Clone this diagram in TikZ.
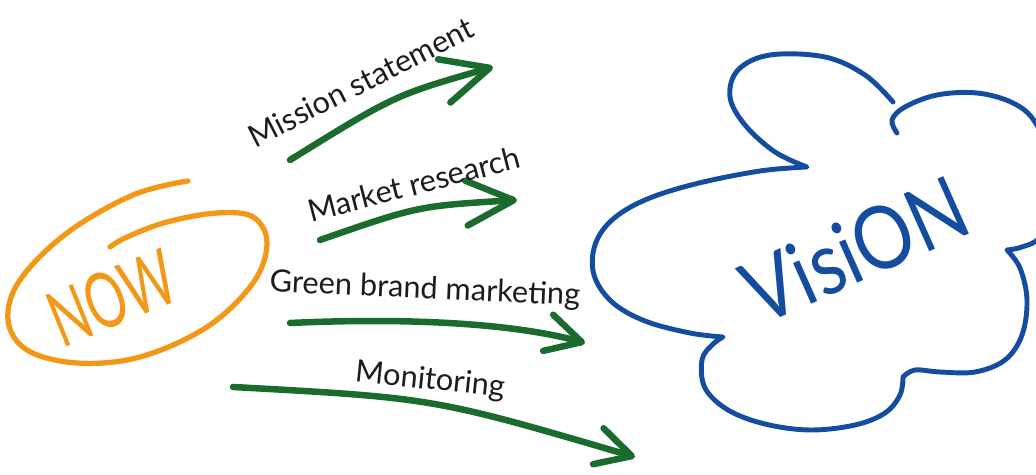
\documentclass[tikz,border=0pt]{standalone}
\usepackage{fontspec}
\usepackage{graphicx}
\setmainfont{Lato}
\usetikzlibrary{arrows.meta}

\definecolor{nowOrange}{RGB}{242,152,22}
\definecolor{visBlue}{RGB}{20,76,160}
\definecolor{stepGreen}{RGB}{26,108,46}
\definecolor{inkGray}{RGB}{28,28,28}

\begin{document}
\begin{tikzpicture}[
  x=0.02cm, y=-0.02cm,
  line cap=round, line join=round,
  steptext/.style={text=inkGray, inner sep=0pt,
    font=\fontsize{17.5}{17.5}\selectfont},
  stepline/.style={draw=stepGreen, line width=3.7pt,
    -{Straight Barb[length=0.95cm, width=0.9cm, round]}},
  smalltip/.style={-{Straight Barb[length=0.7cm, width=0.75cm, round]}},
  nowtext/.style={text=nowOrange, inner sep=0pt,
    font=\fontsize{44}{44}\selectfont},
  vistext/.style={text=visBlue, inner sep=0pt,
    font=\fontsize{50}{50}\selectfont},
]
\useasboundingbox (0,0) rectangle (1036,475);

%% ── NOW, circled ──────────────────────────────────────────────────────────
\draw[nowOrange, line width=3pt] plot[smooth, tension=0.6] coordinates {
  (188,181) (133,195) (67,233) (20,280) (8,320) (27,350) (77,363)
  (140,357) (207,327) (253,283) (267,243) (253,217) (217,213)
  (167,222) (127,237) (110,247)};
\node[nowtext, rotate=22] (now) at (112,298) {\scalebox{0.65}[1]{NOW}};

%% ── VISION cloud ──────────────────────────────────────────────────────────
\begin{scope}
\clip (0,0) rectangle (1036,475);
\draw[visBlue, line width=2.8pt]
  plot[smooth, tension=0.6] coordinates {
    (897,133) (892,120) (905,107) (937,95) (977,93) (1013,103)
    (1035,122) (1050,160) (1052,205) (1040,237) (1022,247) (1007,250)}
  -- plot[smooth, tension=0.6] coordinates {
    (1007,250) (1020,268) (1027,300) (1022,335) (1005,360) (975,372)
    (940,372) (915,370) (903,377)}
  -- plot[smooth, tension=0.6] coordinates {
    (903,377) (900,395) (885,413) (855,425) (810,430) (765,424)
    (728,410) (705,388) (702,360) (712,345) (723,337)}
  -- plot[smooth, tension=0.6] coordinates {
    (723,337) (690,333) (645,321) (612,302) (594,275) (595,245)
    (612,220) (645,200) (695,184) (760,171) (807,167)}
  -- plot[smooth, tension=0.6] coordinates {
    (807,167) (775,152) (745,125) (730,97) (738,70) (770,55)
    (825,57) (865,75) (893,102)};
\end{scope}
\node[vistext, rotate=24] (vision) at (855,250) {\scalebox{0.85}[1]{VisiON}};

%% ── Steps from now to vision ──────────────────────────────────────────────
\coordinate (ms-a) at (290,160);
\coordinate (ms-b) at (493,67);
\coordinate (mr-a) at (320,240);
\coordinate (mr-b) at (517,200);
\coordinate (gb-a) at (290,323);
\coordinate (gb-b) at (585,343);
\coordinate (mo-a) at (233,387);
\coordinate (mo-b) at (635,457);

\draw[stepline] (ms-a) .. controls (395,95) .. (ms-b);
\draw[stepline] (mr-a) .. controls (418,206) .. (mr-b);
\draw[stepline, smalltip] (gb-a) .. controls (420,317) and (520,325) .. (gb-b);
\draw[stepline, smalltip] (mo-a) .. controls (434,398) .. (mo-b);

\node[steptext, rotate=27]   (mission)    at (361,82)  {Mission statement};
\node[steptext, rotate=14.5] (market)     at (414,184) {Market research};
\node[steptext, rotate=-2.5] (greenbrand) at (425,290) {Green brand marketing};
\node[steptext, rotate=-6]   (monitor)    at (430,381) {Monitoring};

\end{tikzpicture}
\end{document}
